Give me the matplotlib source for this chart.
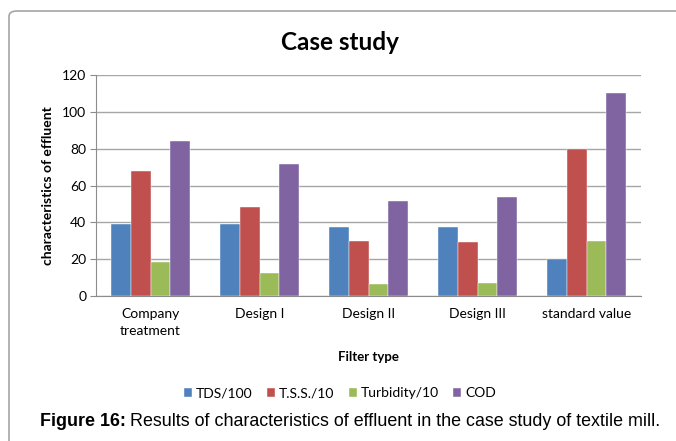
import matplotlib
matplotlib.use("Agg")
import matplotlib.pyplot as plt
import numpy as np
from matplotlib.patches import FancyBboxPatch

categories = ["Company\ntreatment", "Design I", "Design II", "Design III", "standard value"]
series_names = ["TDS/100", "T.S.S./10", "Turbidity/10", "COD"]
tds_100 = [39, 38.9, 37.6, 37.2, 20]
tss_10 = [68, 48.4, 29.8, 29.1, 80]
turbidity_10 = [18.6, 12.5, 6.7, 6.9, 30]
cod = [84, 71.8, 51.7, 53.7, 110]
y_ticks = [0, 20, 40, 60, 80, 100, 120]

colors = ["#4F81BD", "#C0504D", "#9BBB59", "#8064A2"]
series = [tds_100, tss_10, turbidity_10, cod]

font = "Lato"

fig = plt.figure(figsize=(6.76, 4.41), dpi=100)

# rounded outer frame running off the right and bottom edges
frame = FancyBboxPatch((9 / 676, -0.2), 1.2, 1.2 - 11 / 441,
                       boxstyle="round,pad=0,rounding_size=0.012",
                       transform=fig.transFigure, fill=False,
                       edgecolor="#a6a6a6", linewidth=1.2)
fig.patches.append(frame)

ax = fig.add_axes([96 / 676, 1 - 296 / 441, (641 - 96) / 676, (296 - 75) / 441])

x = np.arange(len(categories))
w = 1 / 5.5
offsets = (np.arange(4) - 1.5) * w
for vals, off, c, name in zip(series, offsets, colors, series_names):
    ax.bar(x + off, vals, width=w, color=c, label=name, zorder=3,
           edgecolor="white", linewidth=0.3)

ax.set_xlim(-0.5, len(categories) - 0.5)
ax.set_ylim(0, 120)
ax.set_yticks(y_ticks)
ax.set_xticks(x)
ax.set_xticklabels(categories, fontfamily=font, fontsize=10, linespacing=1.45)
ax.tick_params(axis="x", length=0, pad=9)
ax.tick_params(axis="y", length=4, color="#8c8c8c", labelsize=10, pad=3)
for lbl in ax.get_yticklabels():
    lbl.set_fontfamily(font)

ax.grid(axis="y", color="#a6a6a6", linewidth=1.0, zorder=0)
for s in ["top", "right"]:
    ax.spines[s].set_visible(False)
ax.spines["left"].set_color("#8c8c8c")
ax.spines["bottom"].set_color("#8c8c8c")

ax.set_ylabel("characteristics of effluent", fontfamily=font, fontweight="bold",
              fontsize=10, labelpad=6)
ax.set_xlabel("Filter type", fontfamily=font, fontweight="bold", fontsize=9.5,
              labelpad=10)

fig.text(340 / 676, 1 - 42 / 441, "Case study", ha="center", va="center",
         fontfamily=font, fontweight="bold", fontsize=17.5)

ax.legend(loc="center", bbox_to_anchor=(340 / 676, 1 - 393 / 441),
          bbox_transform=fig.transFigure, ncol=4, frameon=False,
          prop={"family": font, "size": 10}, handlelength=0.6, handleheight=0.6,
          handletextpad=0.3, columnspacing=1.0)

t1 = fig.text(40 / 676, 1 - 421 / 441, "Figure 16:", ha="left", va="center",
              fontfamily="Liberation Sans", fontweight="bold", fontsize=12.9)
fig.canvas.draw()
ext = t1.get_window_extent()
fig.text(ext.x1 / fig.bbox.width + 4 / 676, 1 - 421 / 441,
         "Results of characteristics of effluent in the case study of textile mill.",
         ha="left", va="center", fontfamily="Liberation Sans", fontsize=12.9)

fig.savefig("out.png", dpi=100)
